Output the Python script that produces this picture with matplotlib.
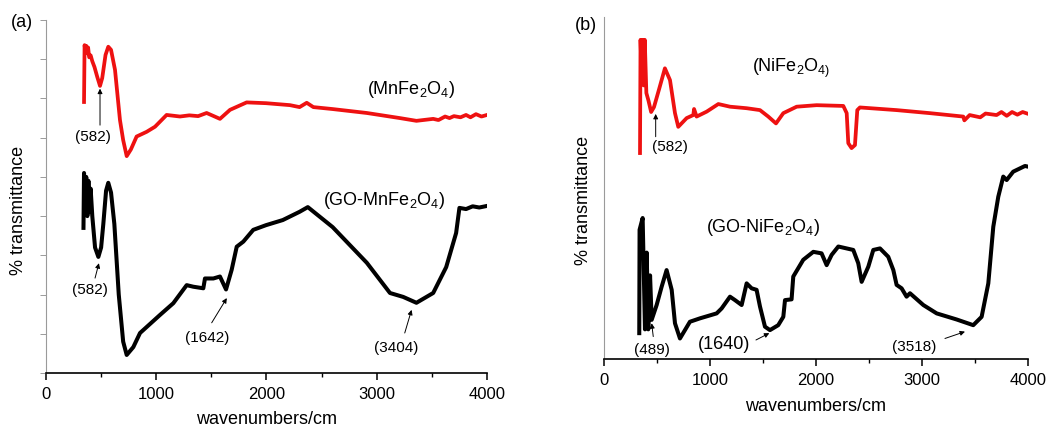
import numpy as np
import matplotlib
matplotlib.use('Agg')
import matplotlib.pyplot as plt
from matplotlib.ticker import MultipleLocator, NullFormatter

plt.rcParams['font.family'] = ['Liberation Sans', 'DejaVu Sans']
plt.rcParams['mathtext.fontset'] = 'custom'
plt.rcParams['mathtext.rm'] = 'Liberation Sans'
plt.rcParams['mathtext.it'] = 'Liberation Sans'
plt.rcParams['mathtext.default'] = 'regular'

# ── (a) MnFe2O4 ─────────────────────────────────────────────────────────
mn_wn = [345, 350, 358, 366, 374, 382, 392, 405, 420, 440, 465, 490, 510, 540,
         565, 590, 626, 671, 700, 732, 770, 822, 913, 989, 1094, 1155, 1215,
         1300, 1380, 1457, 1530, 1578, 1669, 1820, 1996, 2213, 2300, 2365,
         2425, 2600, 2910, 3210, 3360, 3512, 3560, 3620, 3660, 3700, 3760,
         3810, 3850, 3900, 3950, 4000]
mn_t = [69.1, 83.6, 82.0, 83.4, 81.5, 83.0, 80.5, 81.0, 79.5, 78.0, 75.5, 73.2,
        75.2, 81.1, 83.2, 82.4, 77.3, 64.5, 59.4, 55.3, 57.0, 60.3, 61.5, 62.8,
        65.8, 65.6, 65.4, 65.7, 65.5, 66.3, 65.4, 64.8, 67.1, 69.0, 68.8, 68.3,
        67.8, 68.9, 67.8, 67.3, 66.3, 65.0, 64.3, 64.8, 64.5, 65.4, 65.0, 65.5,
        65.2, 65.8, 65.2, 66.0, 65.4, 65.8]

# ── (a) GO-MnFe2O4 ──────────────────────────────────────────────────────
gomn_wn = [340, 345, 355, 365, 375, 385, 395, 405, 420, 445, 475, 500, 520,
           545, 565, 590, 620, 660, 700, 732, 792, 853, 1034, 1155, 1276,
           1336, 1427, 1442, 1518, 1578, 1633, 1684, 1730, 1790, 1880, 1996,
           2148, 2300, 2375, 2600, 2910, 3120, 3240, 3360, 3512, 3630, 3720,
           3750, 3810, 3870, 3930, 4000]
gomn_t = [37.0, 51.0, 42.0, 50.0, 40.0, 49.0, 41.0, 47.0, 40.0, 32.0, 29.6,
          32.0, 38.0, 46.5, 48.5, 46.0, 38.0, 20.0, 8.0, 4.6, 6.6, 10.2, 14.8,
          17.8, 22.4, 22.0, 21.6, 24.1, 24.1, 24.6, 21.3, 26.3, 32.2, 33.5,
          36.5, 37.7, 39.0, 41.1, 42.3, 37.2, 28.1, 20.4, 19.4, 17.9, 20.4,
          27.0, 35.7, 42.1, 41.8, 42.5, 42.2, 42.6]

# ── (b) NiFe2O4 ─────────────────────────────────────────────────────────
ni_wn = [340, 345, 355, 365, 375, 385, 400, 420, 445, 472, 520, 575, 623, 670,
         701, 780, 843, 850, 874, 969, 1079, 1189, 1346, 1472, 1550, 1623,
         1692, 1818, 2006, 2258, 2290, 2305, 2336, 2368, 2390, 2415, 2761,
         3075, 3390, 3400, 3450, 3550, 3600, 3704, 3750, 3800, 3850, 3900,
         3950, 4003]
ni_t = [54.2, 84.0, 75.0, 84.0, 72.0, 84.0, 70.0, 68.0, 65.0, 66.3, 71.0, 76.5,
        73.4, 64.7, 61.1, 63.4, 64.2, 65.8, 63.8, 65.1, 67.1, 66.4, 66.0, 65.5,
        63.8, 62.0, 64.7, 66.4, 66.8, 66.6, 64.7, 56.8, 55.5, 56.3, 65.5, 66.2,
        65.5, 64.7, 63.8, 62.8, 64.2, 63.6, 64.6, 64.2, 65.0, 64.0, 65.0, 64.3,
        65.0, 64.5]

# ── (b) GO-NiFe2O4 ──────────────────────────────────────────────────────
goni_wn = [333, 336, 365, 387, 403, 418, 435, 450, 497, 544, 591, 639, 670,
           717, 764, 811, 906, 1063, 1110, 1189, 1236, 1299, 1346, 1393, 1440,
           1472, 1519, 1566, 1644, 1692, 1708, 1770, 1786, 1880, 1975, 2053,
           2101, 2148, 2211, 2352, 2399, 2431, 2494, 2541, 2604, 2682, 2730,
           2761, 2808, 2855, 2887, 3013, 3139, 3327, 3484, 3563, 3626, 3673,
           3720, 3767, 3799, 3861, 3972, 4003]
goni_t = [6.8, 34.0, 37.1, 7.8, 28.0, 7.8, 22.0, 10.3, 14.2, 19.0, 23.4, 18.2,
          9.4, 5.4, 7.6, 9.8, 10.7, 12.0, 13.3, 16.4, 15.5, 14.2, 19.9, 18.6,
          18.2, 13.8, 8.5, 7.6, 8.9, 11.1, 15.5, 15.7, 21.7, 26.1, 28.2, 27.8,
          24.7, 27.4, 29.6, 28.7, 25.2, 20.3, 24.3, 28.7, 29.1, 26.9, 23.4,
          19.5, 18.6, 16.4, 17.3, 14.2, 12.0, 10.4, 8.9, 11.1, 19.9, 34.8,
          42.7, 48.0, 47.1, 49.3, 50.8, 50.6]

RED = '#ee1111'
ARROW = dict(arrowstyle='-|>', color='black', lw=0.7, mutation_scale=7,
             shrinkA=0, shrinkB=0)


def style_axes(ax, yticks):
    ax.set_xlim(0, 4000)
    ax.set_ylim(0, 90)
    ax.spines['top'].set_visible(False)
    ax.spines['right'].set_visible(False)
    ax.spines['bottom'].set_linewidth(1.2)
    ax.spines['left'].set_color('#9a9a9a')
    ax.spines['left'].set_linewidth(0.8)
    ax.xaxis.set_major_locator(MultipleLocator(1000))
    ax.xaxis.set_minor_locator(MultipleLocator(500))
    ax.tick_params(axis='x', which='major', direction='out', length=5,
                   width=1.1, labelsize=12, pad=5)
    ax.tick_params(axis='x', which='minor', direction='out', length=3,
                   width=1.0)
    if yticks:
        ax.yaxis.set_major_locator(MultipleLocator(10))
        ax.yaxis.set_major_formatter(NullFormatter())
        ax.tick_params(axis='y', direction='out', length=4, width=0.7,
                       color='#9a9a9a')
    else:
        ax.set_yticks([])


def note(ax, label, text_xy, tail, tip, size=11):
    ax.text(*text_xy, label, ha='center', va='center', fontsize=size)
    ax.annotate('', xy=tip, xytext=tail, arrowprops=ARROW)


fig = plt.figure(figsize=(10.5, 4.32), dpi=100)
ax_a = fig.add_axes([0.0438, 0.1366, 0.42, 0.817])
ax_b = fig.add_axes([0.5752, 0.169, 0.4038, 0.7916])

# ── Panel (a) ───────────────────────────────────────────────────────────
style_axes(ax_a, yticks=True)
ax_a.plot(mn_wn, mn_t, color=RED, lw=2.7, solid_joinstyle='round')
ax_a.plot(gomn_wn, gomn_t, color='black', lw=2.9, solid_joinstyle='round')
ax_a.text(3311, 72.2, '(MnFe$_2$O$_4$)', ha='center', va='center', fontsize=13)
ax_a.text(3066, 44.1, '(GO-MnFe$_2$O$_4$)', ha='center', va='center', fontsize=13)
note(ax_a, '(582)', (430, 60.2), (490, 63.2), (490, 72.5))
note(ax_a, '(582)', (400, 21.2), (445, 24.2), (480, 28.0))
note(ax_a, '(1642)', (1463, 8.9), (1503, 12.8), (1640, 19.1))
note(ax_a, '(3404)', (3180, 6.4), (3254, 10.2), (3316, 16.1))

# ── Panel (b) ───────────────────────────────────────────────────────────
style_axes(ax_b, yticks=False)
ax_b.plot(ni_wn, ni_t, color=RED, lw=2.7, solid_joinstyle='round')
ax_b.plot(goni_wn, goni_t, color='black', lw=2.9, solid_joinstyle='round')
ax_b.text(1764, 76.6, '(NiFe$_2$O$_{4)}$', ha='center', va='center', fontsize=13)
ax_b.text(1500, 34.7, '(GO-NiFe$_2$O$_4$)', ha='center', va='center', fontsize=13)
note(ax_b, '(582)', (623, 55.8), (488, 58.5), (488, 64.5))
note(ax_b, '(489)', (450, 2.4), (465, 5.9), (450, 9.4))
note(ax_b, '(1640)', (1132, 3.7), (1434, 5.0), (1560, 6.8), size=13)
note(ax_b, '(3518)', (2925, 3.2), (3217, 5.4), (3406, 7.2))

# ── Figure labels ───────────────────────────────────────────────────────
fig.text(0.021, 0.949, '(a)', ha='center', va='center', fontsize=13)
fig.text(0.5576, 0.942, '(b)', ha='center', va='center', fontsize=13)
fig.text(0.018, 0.514, '% transmittance', rotation=90, ha='center',
         va='center', fontsize=13)
fig.text(0.556, 0.537, '% transmittance', rotation=90, ha='center',
         va='center', fontsize=13)
fig.text(0.254, 0.028, 'wavenumbers/cm', ha='center', va='center', fontsize=13)
fig.text(0.777, 0.060, 'wavenumbers/cm', ha='center', va='center', fontsize=13)

fig.savefig('out.png', dpi=100)
